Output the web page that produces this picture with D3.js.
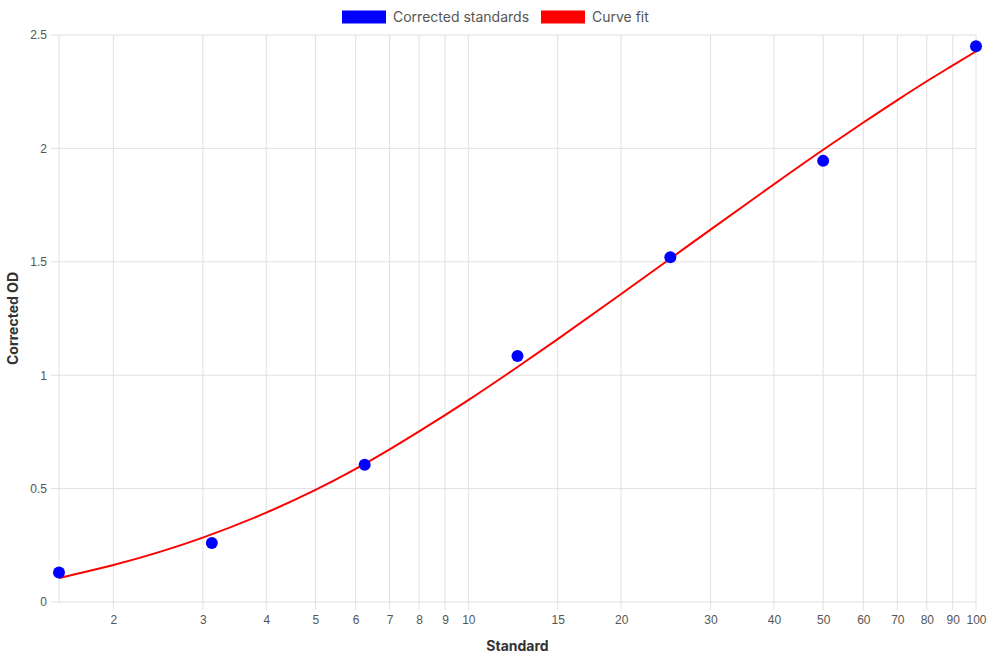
<!DOCTYPE html>
<html lang="en">
<head>
<meta charset="utf-8" />
<style>
    body { margin: 0; background: #fff; }
    .grid line { stroke: #e0e0e0; stroke-width: 1px; }
    .tick text { font-family: "Liberation Sans", Arial, sans-serif; font-size: 12px; fill: #555; }
    .title { font-family: Inter, "Open Sans", sans-serif; font-weight: 700; font-size: 14px; fill: #333; }
    .legend text { font-family: Inter, "Open Sans", sans-serif; font-size: 14px; fill: #555; }
</style>
</head>
<body>
<svg width="990" height="660"></svg>
<script src="https://cdn.jsdelivr.net/npm/d3@7"></script>
<script>

    // corrected standards (measured points)
    var standards = [1.5625, 3.125, 6.25, 12.5, 25, 50, 100];
    var odValues = [0.13, 0.26, 0.605, 1.085, 1.52, 1.945, 2.45];

    // curve fit
    var fitX = [1.5625, 2, 3, 4, 5, 6, 7, 8, 10, 12.5, 15, 20, 25, 30, 40, 50, 60, 70, 80, 90, 100];
    var fitY = [0.106, 0.163, 0.284, 0.394, 0.494, 0.587, 0.673, 0.752, 0.89, 1.036, 1.159, 1.358, 1.514, 1.642, 1.842, 1.994, 2.114, 2.213, 2.296, 2.366, 2.428];

    var xTicks = [2, 3, 4, 5, 6, 7, 8, 9, 10, 15, 20, 30, 40, 50, 60, 70, 80, 90, 100];
    var yTicks = [0, 0.5, 1, 1.5, 2, 2.5];

    var svg = d3.select("svg"),
        plotLeft = 59, plotRight = 976, plotTop = 35, plotBottom = 602;

    var x = d3.scaleLog().domain([1.5625, 100]).range([plotLeft, plotRight]);
    var y = d3.scaleLinear().domain([0, 2.5]).range([plotBottom, plotTop]);

    // vertical grid
    svg.append("g").attr("class", "grid")
        .selectAll("line")
        .data([1.5625].concat(xTicks))
        .enter().append("line")
        .attr("x1", function(d) { return x(d); })
        .attr("x2", function(d) { return x(d); })
        .attr("y1", plotTop)
        .attr("y2", function(d) { return d === 1.5625 ? plotBottom : plotBottom + 8; });

    // horizontal grid
    svg.append("g").attr("class", "grid")
        .selectAll("line")
        .data(yTicks)
        .enter().append("line")
        .attr("x1", plotLeft - 8)
        .attr("x2", plotRight)
        .attr("y1", function(d) { return y(d); })
        .attr("y2", function(d) { return y(d); });

    var xAxis = svg.append("g")
        .attr("transform", "translate(0," + plotBottom + ")")
        .call(d3.axisBottom(x).tickValues(xTicks).tickFormat(d3.format("d")).tickSize(8).tickPadding(5));
    xAxis.select(".domain").remove();
    xAxis.selectAll(".tick line").remove();

    var yAxis = svg.append("g")
        .attr("transform", "translate(" + plotLeft + ",0)")
        .call(d3.axisLeft(y).tickValues(yTicks).tickFormat(function(d) { return d; }).tickSize(8).tickPadding(4));
    yAxis.select(".domain").remove();
    yAxis.selectAll(".tick line").remove();

    // axis titles
    svg.append("text").attr("class", "title")
        .attr("x", (plotLeft + plotRight) / 2).attr("y", 651)
        .attr("text-anchor", "middle").text("Standard");
    svg.append("text").attr("class", "title")
        .attr("transform", "translate(18," + (plotTop + plotBottom) / 2 + ") rotate(-90)")
        .attr("text-anchor", "middle").text("Corrected OD");

    // fit line
    var line = d3.line()
        .x(function(d, i) { return x(fitX[i]); })
        .y(function(d) { return y(d); })
        .curve(d3.curveMonotoneX);

    svg.append("path")
        .attr("d", line(fitY))
        .attr("fill", "none")
        .attr("stroke", "#ff0000")
        .attr("stroke-width", 2);

    // points
    svg.append("g").selectAll("circle")
        .data(odValues)
        .enter().append("circle")
        .attr("cx", function(d, i) { return x(standards[i]); })
        .attr("cy", function(d) { return y(d); })
        .attr("r", 6)
        .attr("fill", "#0000ff");

    // legend
    var legend = svg.append("g").attr("class", "legend");
    var items = [["Corrected standards", "#0000ff", 342], ["Curve fit", "#ff0000", 541]];
    items.forEach(function(it) {
        legend.append("rect")
            .attr("x", it[2]).attr("y", 10.5)
            .attr("width", 44).attr("height", 13)
            .attr("fill", it[1]);
        legend.append("text")
            .attr("x", it[2] + 51).attr("y", 21.5)
            .text(it[0]);
    });

</script>
</body>
</html>
